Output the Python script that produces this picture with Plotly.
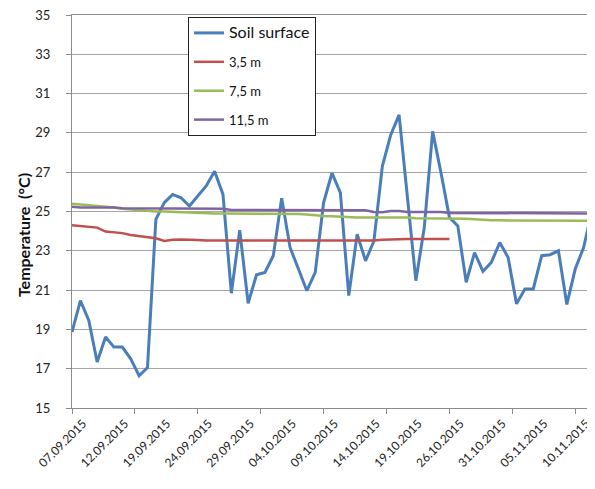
import plotly.graph_objects as go

dates = [
    "07.09.2015", "08.09.2015", "09.09.2015", "10.09.2015", "11.09.2015", "12.09.2015",
    "13.09.2015", "14.09.2015", "17.09.2015", "18.09.2015",
    "19.09.2015", "20.09.2015", "21.09.2015", "22.09.2015", "23.09.2015", "24.09.2015",
    "25.09.2015", "26.09.2015", "27.09.2015", "28.09.2015", "29.09.2015", "30.09.2015",
    "01.10.2015", "02.10.2015", "03.10.2015", "04.10.2015", "05.10.2015", "06.10.2015",
    "07.10.2015", "08.10.2015", "09.10.2015", "10.10.2015", "11.10.2015", "12.10.2015",
    "13.10.2015", "14.10.2015", "15.10.2015", "16.10.2015", "17.10.2015", "18.10.2015",
    "19.10.2015", "20.10.2015", "21.10.2015", "24.10.2015", "25.10.2015",
    "26.10.2015", "27.10.2015", "28.10.2015", "29.10.2015", "30.10.2015", "31.10.2015",
    "01.11.2015", "02.11.2015", "03.11.2015", "04.11.2015", "05.11.2015", "06.11.2015",
    "07.11.2015", "08.11.2015", "09.11.2015", "10.11.2015", "11.11.2015", "12.11.2015",
]

soil_surface = [
    18.86, 20.47, 19.46, 17.34, 18.61, 18.10, 18.10, 17.50, 16.64, 17.06,
    24.60, 25.45, 25.87, 25.70, 25.28, 25.80, 26.30, 27.05, 25.87, 20.84,
    24.05, 20.33, 21.78, 21.90, 22.75, 25.67, 23.17, 22.07, 20.97, 21.90,
    25.45, 26.96, 25.95, 20.72, 23.84, 22.49, 23.50, 27.30, 28.90, 29.92,
    25.60, 21.48, 24.18, 29.08, 26.96, 24.70, 24.27, 21.40, 22.91, 21.95,
    22.41, 23.42, 22.66, 20.30, 21.06, 21.06, 22.75, 22.80, 23.00, 20.27,
    22.07, 23.17, 25.06,
]

depth_3_5 = [
    24.30, 24.25, 24.20, 24.18, 23.98, 23.94, 23.90, 23.80, 23.74, 23.70,
    23.64, 23.50, 23.56, 23.58, 23.58, 23.55, 23.52, 23.52, 23.52, 23.52,
    23.52, 23.52, 23.52, 23.52, 23.52, 23.52, 23.52, 23.52, 23.52, 23.52,
    23.52, 23.52, 23.52, 23.52, 23.52, 23.52, 23.53, 23.56, 23.58, 23.60,
    23.60, 23.60, 23.60, 23.60, 23.60, 23.60,
    None, None, None, None, None, None, None, None, None, None,
    None, None, None, None, None, None, None,
]

depth_7_5 = [
    25.40, 25.36, 25.33, 25.31, 25.25, 25.20, 25.14, 25.10, 25.06, 25.03,
    25.00, 25.00, 24.98, 24.95, 24.93, 24.92, 24.92, 24.90, 24.90, 24.90,
    24.90, 24.90, 24.90, 24.90, 24.89, 24.88, 24.88, 24.87, 24.85, 24.80,
    24.77, 24.76, 24.74, 24.70, 24.70, 24.70, 24.70, 24.70, 24.70, 24.70,
    24.70, 24.66, 24.66, 24.66, 24.66, 24.66, 24.66, 24.63, 24.60, 24.56,
    24.55, 24.55, 24.55, 24.55, 24.54, 24.54, 24.54, 24.53, 24.53, 24.53,
    24.53, 24.53, 24.53,
]

depth_11_5 = [
    25.24, 25.20, 25.20, 25.20, 25.20, 25.20, 25.16, 25.16, 25.16, 25.16,
    25.16, 25.16, 25.16, 25.16, 25.16, 25.14, 25.14, 25.14, 25.14, 25.08,
    25.08, 25.08, 25.08, 25.08, 25.08, 25.08, 25.08, 25.08, 25.08, 25.08,
    25.06, 25.06, 25.06, 25.06, 25.06, 25.06, 24.97, 24.96, 25.02, 25.02,
    24.98, 24.98, 24.98, 24.98, 24.98, 24.93, 24.93, 24.93, 24.93, 24.93,
    24.93, 24.92, 24.92, 24.92, 24.92, 24.91, 24.91, 24.91, 24.91, 24.90,
    24.90, 24.90, 24.90,
]

x = list(range(len(dates)))
label_idx = list(range(0, len(dates), 5))[:13]

series = [
    ('<span style="font-size:16px">Soil surface</span>', soil_surface, "#4A7EBB", 3),
    ("3,5 m", depth_3_5, "#C0504D", 2.5),
    ("7,5 m", depth_7_5, "#9BBB59", 2.5),
    ("11,5 m", depth_11_5, "#8064A2", 2.5),
]

fig = go.Figure()
for i, (name, ys, color, w) in enumerate(series):
    fig.add_trace(go.Scatter(
        x=x, y=ys, name=name, mode="lines",
        line=dict(color=color, width=w),
        legendgroup=f"g{i}",
    ))

# page body has an 8px margin, so the figure is a bit smaller than the window
fig.update_layout(
    width=587, height=481,
    margin=dict(l=64, r=3, t=7, b=81),
    paper_bgcolor="white",
    plot_bgcolor="white",
    font=dict(family="Lato, Liberation Sans, sans-serif", color="#222", size=13),
    showlegend=True,
    legend=dict(
        x=0.223, y=0.995, xanchor="left", yanchor="top",
        bgcolor="white", bordercolor="#222", borderwidth=1,
        font=dict(size=13, color="#111"),
        traceorder="grouped", tracegroupgap=9,
    ),
)

# y title sits a bit below the middle in the original, so use an annotation
fig.add_annotation(
    text="<b>Temperature  (°C)</b>",
    xref="paper", yref="paper", x=0, y=0.44,
    xanchor="center", yanchor="middle", xshift=-49,
    textangle=-90, showarrow=False,
    font=dict(size=16, color="#111"),
)

fig.update_xaxes(
    range=[0, len(dates) - 1],
    automargin=False,
    tickmode="array",
    tickvals=label_idx,
    ticktext=[dates[i] for i in label_idx],
    tickangle=-45,
    tickfont=dict(size=12),
    ticks="",
    ticklabelshift=11,
    ticklabelstandoff=3,
    ticklabeloverflow="allow",
    showgrid=False,
    showline=True, linecolor="#8c8c8c", linewidth=1, mirror=True,
    minor=dict(ticks="outside", tick0=0, dtick=7.5, ticklen=5, tickcolor="#8c8c8c", showgrid=False),
    zeroline=False,
)

fig.update_yaxes(
    range=[15, 35],
    automargin=False,
    tickmode="linear", tick0=15, dtick=2,
    ticks="outside", ticklen=5, tickcolor="#8c8c8c",
    ticklabelstandoff=13,
    ticklabeloverflow="allow",
    tickfont=dict(size=13),
    showgrid=True, gridcolor="#a6a6a6", gridwidth=1,
    showline=True, linecolor="#8c8c8c", linewidth=1, mirror=True,
    zeroline=False,
)

fig.write_html("out.html")
